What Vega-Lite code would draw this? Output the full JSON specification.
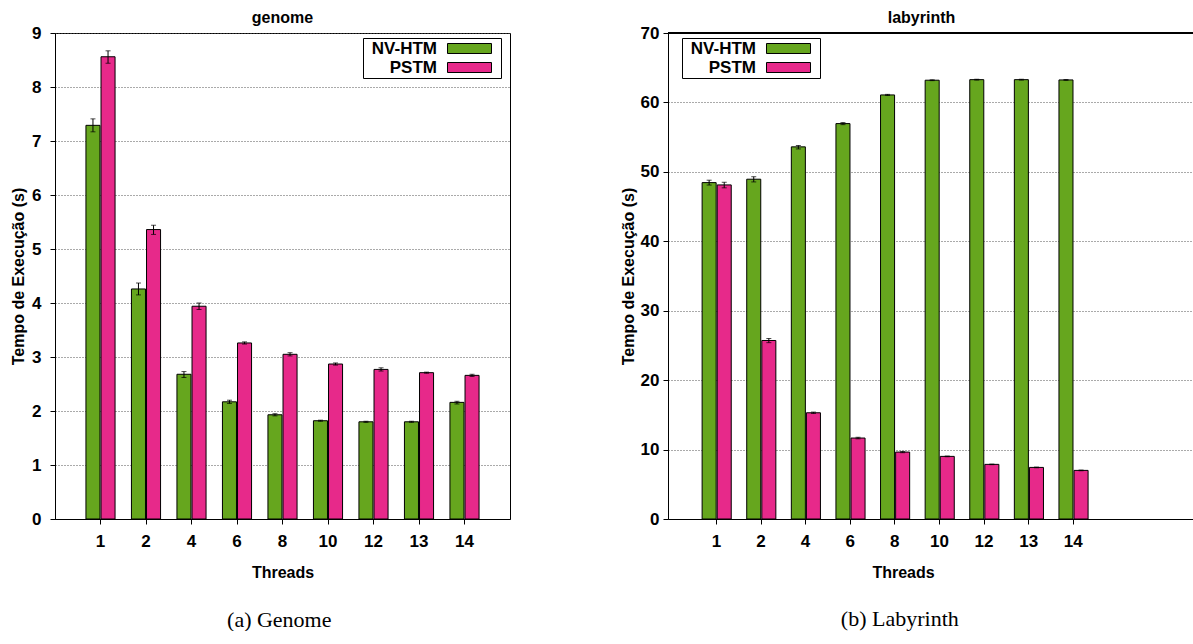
{
  "$schema": "https://vega.github.io/schema/vega-lite/v6.json",
  "padding": {"left": 10, "top": 9, "right": 0, "bottom": 0},
  "datasets": {
    "genome": [
      {"threads": 1, "system": "NV-HTM", "time": 7.29, "lo": 7.17, "hi": 7.41},
      {"threads": 1, "system": "PSTM", "time": 8.56, "lo": 8.44, "hi": 8.67},
      {"threads": 2, "system": "NV-HTM", "time": 4.26, "lo": 4.15, "hi": 4.37},
      {"threads": 2, "system": "PSTM", "time": 5.36, "lo": 5.27, "hi": 5.44},
      {"threads": 4, "system": "NV-HTM", "time": 2.68, "lo": 2.62, "hi": 2.73},
      {"threads": 4, "system": "PSTM", "time": 3.94, "lo": 3.88, "hi": 4.0},
      {"threads": 6, "system": "NV-HTM", "time": 2.17, "lo": 2.14, "hi": 2.2},
      {"threads": 6, "system": "PSTM", "time": 3.26, "lo": 3.24, "hi": 3.28},
      {"threads": 8, "system": "NV-HTM", "time": 1.93, "lo": 1.91, "hi": 1.95},
      {"threads": 8, "system": "PSTM", "time": 3.05, "lo": 3.02, "hi": 3.08},
      {"threads": 10, "system": "NV-HTM", "time": 1.82, "lo": 1.81, "hi": 1.83},
      {"threads": 10, "system": "PSTM", "time": 2.87, "lo": 2.85, "hi": 2.89},
      {"threads": 12, "system": "NV-HTM", "time": 1.8, "lo": 1.79, "hi": 1.81},
      {"threads": 12, "system": "PSTM", "time": 2.77, "lo": 2.74, "hi": 2.8},
      {"threads": 13, "system": "NV-HTM", "time": 1.8, "lo": 1.79, "hi": 1.81},
      {"threads": 13, "system": "PSTM", "time": 2.71, "lo": 2.7, "hi": 2.72},
      {"threads": 14, "system": "NV-HTM", "time": 2.16, "lo": 2.13, "hi": 2.18},
      {"threads": 14, "system": "PSTM", "time": 2.66, "lo": 2.64, "hi": 2.68}
    ],
    "labyrinth": [
      {"threads": 1, "system": "NV-HTM", "time": 48.45, "lo": 48.1, "hi": 48.8},
      {"threads": 1, "system": "PSTM", "time": 48.12, "lo": 47.7, "hi": 48.5},
      {"threads": 2, "system": "NV-HTM", "time": 48.94, "lo": 48.55, "hi": 49.3},
      {"threads": 2, "system": "PSTM", "time": 25.71, "lo": 25.4, "hi": 26.0},
      {"threads": 4, "system": "NV-HTM", "time": 53.6, "lo": 53.3, "hi": 53.8},
      {"threads": 4, "system": "PSTM", "time": 15.3, "lo": 15.2, "hi": 15.4},
      {"threads": 6, "system": "NV-HTM", "time": 56.95, "lo": 56.8, "hi": 57.1},
      {"threads": 6, "system": "PSTM", "time": 11.66, "lo": 11.55, "hi": 11.77},
      {"threads": 8, "system": "NV-HTM", "time": 61.08, "lo": 61.0, "hi": 61.16},
      {"threads": 8, "system": "PSTM", "time": 9.64, "lo": 9.55, "hi": 9.73},
      {"threads": 10, "system": "NV-HTM", "time": 63.2, "lo": 63.14, "hi": 63.26},
      {"threads": 10, "system": "PSTM", "time": 9.02, "lo": 8.97, "hi": 9.07},
      {"threads": 12, "system": "NV-HTM", "time": 63.28, "lo": 63.22, "hi": 63.34},
      {"threads": 12, "system": "PSTM", "time": 7.87, "lo": 7.83, "hi": 7.91},
      {"threads": 13, "system": "NV-HTM", "time": 63.28, "lo": 63.22, "hi": 63.34},
      {"threads": 13, "system": "PSTM", "time": 7.43, "lo": 7.38, "hi": 7.48},
      {"threads": 14, "system": "NV-HTM", "time": 63.24, "lo": 63.18, "hi": 63.3},
      {"threads": 14, "system": "PSTM", "time": 7.0, "lo": 6.95, "hi": 7.05}
    ]
  },
  "config": {
    "font": "Liberation Sans",
    "view": {"stroke": null},
    "axis": {
      "labelFont": "Liberation Sans", "labelFontSize": 17, "labelFontWeight": "bold", "labelColor": "black",
      "titleFont": "Liberation Sans", "titleFontSize": 16, "titleFontWeight": "bold", "titleColor": "black",
      "tickColor": "black", "domainColor": "black", "tickSize": 5,
      "gridColor": "#555555", "gridDash": [1, 2], "gridOpacity": 1, "gridWidth": 1
    },
    "legend": {
      "orient": "none", "title": null,
      "labelFont": "Liberation Sans", "labelFontSize": 17, "labelFontWeight": "bold", "labelColor": "black",
      "labelAlign": "right", "labelOffset": -41, "symbolOffset": 96,
      "symbolType": "M-4.4,-1H4.4V1H-4.4ZM5.4,0", "symbolSize": 100,
      "symbolStrokeColor": "black", "symbolStrokeWidth": 1, "symbolOpacity": 1,
      "strokeColor": "black", "fillColor": "white", "padding": 2, "rowPadding": 1
    },
    "title": {"font": "Liberation Sans", "fontSize": 16, "fontWeight": "bold", "color": "black", "anchor": "middle", "frame": "group"}
  },
  "resolve": {"legend": {"color": "independent"}},
  "spacing": 109,
  "hconcat": [
    {
      "title": {"text": "(a) Genome", "orient": "bottom", "anchor": "middle", "frame": "bounds", "dx": 19, "offset": 29, "font": "Liberation Serif", "fontSize": 22, "fontWeight": "normal"},
      "vconcat": [
        {
          "data": {"name": "genome"},
          "width": 455,
          "height": 486,
          "view": {"stroke": "black", "strokeWidth": 1},
          "title": {"text": "genome", "offset": -2},
          "layer": [
            {
              "mark": {"type": "bar", "stroke": "black", "strokeWidth": 1},
              "encoding": {
                "x": {"field": "threads", "type": "ordinal", "scale": {"paddingInner": 0.36, "paddingOuter": 0.68},
                      "axis": {"title": "Threads", "labelAngle": 0, "labelPadding": 9, "titlePadding": 15}},
                "xOffset": {"field": "system", "type": "nominal", "scale": {"paddingInner": 0.07}},
                "y": {"field": "time", "type": "quantitative", "scale": {"domain": [0, 9], "nice": false},
                      "axis": {"title": "Tempo de Execução (s)", "values": [0, 1, 2, 3, 4, 5, 6, 7, 8, 9], "format": "d", "grid": true, "labelPadding": 9, "titlePadding": 5}},
                "color": {"field": "system", "type": "nominal",
                          "scale": {"domain": ["NV-HTM", "PSTM"], "range": ["#66A61E", "#E7298A"]},
                          "legend": {"legendX": 308, "legendY": 5}}
              }
            },
            {
              "mark": {"type": "rule", "color": "black", "strokeWidth": 1},
              "encoding": {
                "x": {"field": "threads", "type": "ordinal"},
                "xOffset": {"field": "system", "type": "nominal"},
                "y": {"field": "lo", "type": "quantitative"},
                "y2": {"field": "hi"}
              }
            },
            {
              "mark": {"type": "tick", "color": "black", "size": 5, "thickness": 1},
              "encoding": {
                "x": {"field": "threads", "type": "ordinal"},
                "xOffset": {"field": "system", "type": "nominal"},
                "y": {"field": "lo", "type": "quantitative"}
              }
            },
            {
              "mark": {"type": "tick", "color": "black", "size": 5, "thickness": 1},
              "encoding": {
                "x": {"field": "threads", "type": "ordinal"},
                "xOffset": {"field": "system", "type": "nominal"},
                "y": {"field": "hi", "type": "quantitative"}
              }
            }
          ]
        }
      ]
    },
    {
      "title": {"text": "(b) Labyrinth", "orient": "bottom", "anchor": "middle", "frame": "bounds", "dx": -7, "offset": 29, "font": "Liberation Serif", "fontSize": 22, "fontWeight": "normal"},
      "vconcat": [
        {
          "data": {"name": "labyrinth"},
          "width": 525,
          "height": 486,
          "title": {"text": "labyrinth", "offset": -2, "dx": -9},
          "layer": [
            {
              "mark": {"type": "bar", "stroke": "black", "strokeWidth": 1},
              "encoding": {
                "x": {"field": "threads", "type": "ordinal",
                      "scale": {"domain": [1, 2, 4, 6, 8, 10, 12, 13, 14, 15, 16], "paddingInner": 0.36, "paddingOuter": 0.565, "align": 0.677},
                      "axis": {"title": "Threads", "values": [1, 2, 4, 6, 8, 10, 12, 13, 14], "labelAngle": 0, "labelPadding": 9, "titlePadding": 15, "titleX": 235}},
                "xOffset": {"field": "system", "type": "nominal", "scale": {"paddingInner": 0.07}},
                "y": {"field": "time", "type": "quantitative", "scale": {"domain": [0, 70], "nice": false},
                      "axis": {"title": "Tempo de Execução (s)", "values": [0, 10, 20, 30, 40, 50, 60, 70], "format": "d", "grid": true, "labelPadding": 4, "titlePadding": 4}},
                "color": {"field": "system", "type": "nominal",
                          "scale": {"domain": ["NV-HTM", "PSTM"], "range": ["#66A61E", "#E7298A"]},
                          "legend": {"legendX": 14, "legendY": 5}}
              }
            },
            {
              "mark": {"type": "rule", "color": "black", "strokeWidth": 1},
              "encoding": {
                "y": {"datum": 70, "type": "quantitative"}
              }
            },
            {
              "mark": {"type": "rule", "color": "black", "strokeWidth": 1},
              "encoding": {
                "x": {"field": "threads", "type": "ordinal"},
                "xOffset": {"field": "system", "type": "nominal"},
                "y": {"field": "lo", "type": "quantitative"},
                "y2": {"field": "hi"}
              }
            },
            {
              "mark": {"type": "tick", "color": "black", "size": 5, "thickness": 1},
              "encoding": {
                "x": {"field": "threads", "type": "ordinal"},
                "xOffset": {"field": "system", "type": "nominal"},
                "y": {"field": "lo", "type": "quantitative"}
              }
            },
            {
              "mark": {"type": "tick", "color": "black", "size": 5, "thickness": 1},
              "encoding": {
                "x": {"field": "threads", "type": "ordinal"},
                "xOffset": {"field": "system", "type": "nominal"},
                "y": {"field": "hi", "type": "quantitative"}
              }
            }
          ]
        }
      ]
    }
  ]
}
